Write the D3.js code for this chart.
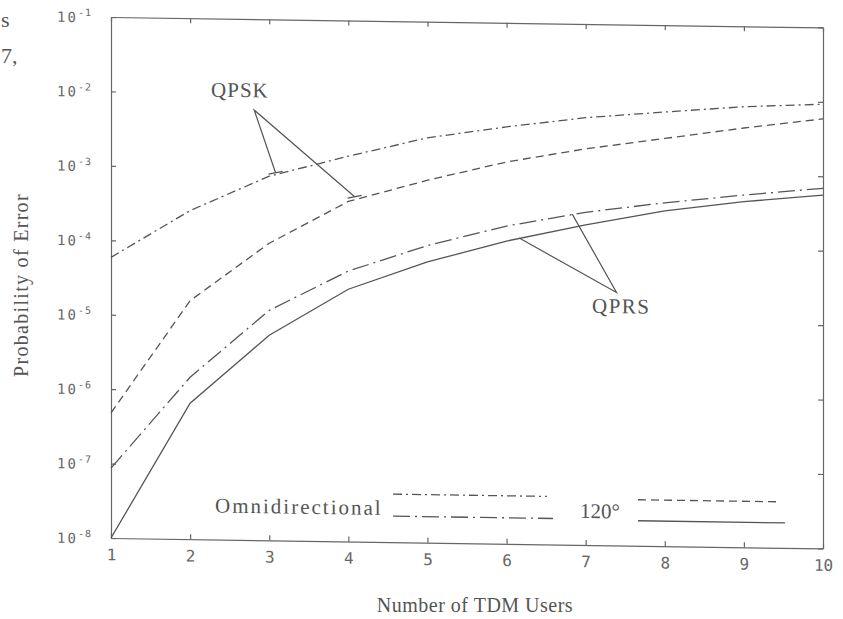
<!DOCTYPE html>
<html>
<head>
<meta charset="utf-8">
<script src="https://cdn.jsdelivr.net/npm/d3@7"></script>
<style>
  body { margin: 0; background: #fff; }
  svg { display: block; }
  .axis path, .axis line { stroke: #666; stroke-width: 1.2; }
  .curve { fill: none; stroke: #555; stroke-width: 1.3; }
  .note { fill: none; stroke: #555; stroke-width: 1.2; }
  .serif { font-family: "Liberation Serif", "DejaVu Serif", serif; fill: #555; }
</style>
</head>
<body>
<svg width="843" height="619"></svg>
<script>
// number of TDM users
var users = [1, 2, 3, 4, 5, 6, 7, 8, 9, 10];

// probability of error
var qpskOmni = [5.9e-5, 2.6e-4, 7.8e-4, 1.5e-3, 2.75e-3, 4.0e-3, 5.5e-3, 6.8e-3, 8.3e-3, 9.3e-3];
var qpsk120  = [4.8e-7, 1.6e-5, 9.8e-5, 3.7e-4, 7.4e-4, 1.35e-3, 2.1e-3, 3.0e-3, 4.3e-3, 5.9e-3];
var qprsOmni = [8.7e-8, 1.5e-6, 1.23e-5, 4.3e-5, 9.8e-5, 1.86e-4, 2.95e-4, 4.1e-4, 5.4e-4, 6.9e-4];
var qprs120  = [1.0e-8, 6.7e-7, 5.7e-6, 2.45e-5, 5.9e-5, 1.17e-4, 2.0e-4, 3.2e-4, 4.4e-4, 5.6e-4];

var xTicks = [1, 2, 3, 4, 5, 6, 7, 8, 9, 10];
var yTicks = [1e-8, 1e-7, 1e-6, 1e-5, 1e-4, 1e-3, 1e-2, 1e-1];
var yExps  = ["-8", "-7", "-6", "-5", "-4", "-3", "-2", "-1"];

// callout lines (users, probability): end - apex - end
var qpskCallout = [[3.08, 8.7e-4], [2.81, 6.0e-3], [4.08, 4.3e-4]];
var qprsCallout = [[6.16, 1.29e-4], [7.39, 2.5e-5], [6.83, 2.77e-4]];

var svg = d3.select("svg"),
    margin = {top: 17, left: 111},
    width = 712,
    height = 521;

var x = d3.scaleLinear().domain([1, 10]).range([0, width]),
    y = d3.scaleLog().domain([1e-8, 1e-1]).range([height, 0]);

// the scanned page is a little tilted, so shear the plot a bit
var g = svg.append("g")
  .attr("transform", "translate(" + margin.left + "," + margin.top + ") skewY(0.84)");

var line = d3.line()
  .x(function(d) { return x(d[0]); })
  .y(function(d) { return y(d[1]); });

function pairs(vals) {
  return users.map(function(u, i) { return [u, vals[i]]; });
}

// frame with inward ticks on all sides
g.append("g").attr("class", "axis")
  .attr("transform", "translate(0," + height + ")")
  .call(d3.axisBottom(x).tickValues(xTicks).tickSizeInner(-5).tickSizeOuter(0).tickPadding(11))
  .selectAll("text")
  .style("font", "16px 'DejaVu Sans Mono', monospace")
  .attr("fill", "#666");

g.append("g").attr("class", "axis")
  .call(d3.axisTop(x).tickValues(xTicks).tickSizeInner(-5).tickSizeOuter(0).tickFormat(""));

g.append("g").attr("class", "axis")
  .attr("transform", "translate(" + width + ",0)")
  .call(d3.axisRight(y).tickValues(yTicks).tickSizeInner(-5).tickSizeOuter(0).tickFormat(""));

var yAxis = g.append("g").attr("class", "axis")
  .call(d3.axisLeft(y).tickValues(yTicks).tickSizeInner(-5).tickSizeOuter(0).tickPadding(19).tickFormat(""));

// 10 with a raised exponent
yAxis.selectAll(".tick").each(function(d) {
  var t = d3.select(this).append("text")
    .attr("x", -19)
    .attr("y", 5)
    .attr("text-anchor", "end")
    .attr("fill", "#666")
    .style("font-family", "'DejaVu Sans Mono', monospace");
  t.append("tspan").text("10").style("font-size", "14px").style("letter-spacing", "2px");
  t.append("tspan").text(yExps[yTicks.indexOf(d)]).attr("dy", -6).style("font-size", "10px").style("letter-spacing", "1px");
});

// curves
g.append("path").attr("class", "curve").attr("stroke-dasharray", "9,4,2,4").attr("d", line(pairs(qpskOmni)));
g.append("path").attr("class", "curve").attr("stroke-dasharray", "8,5").attr("d", line(pairs(qpsk120)));
g.append("path").attr("class", "curve").attr("stroke-dasharray", "17,5,2,5").attr("d", line(pairs(qprsOmni)));
g.append("path").attr("class", "curve").attr("d", line(pairs(qprs120)));

// callouts
g.append("path").attr("class", "note").attr("d", line(qpskCallout));
g.append("path").attr("class", "note").attr("d", line(qprsCallout));
[qpskCallout[0], qpskCallout[2]].forEach(function(p) {
  g.append("line").attr("class", "note")
    .attr("x1", x(p[0]) - 7).attr("y1", y(p[1]) + 1.5)
    .attr("x2", x(p[0]) + 7).attr("y2", y(p[1]) - 1.5);
});

g.append("text").attr("class", "serif")
  .attr("x", x(2.63)).attr("y", y(8.9e-3))
  .attr("text-anchor", "middle")
  .style("font-size", "21px").style("letter-spacing", "1px")
  .text("QPSK");

g.append("text").attr("class", "serif")
  .attr("x", x(7.45)).attr("y", y(1.32e-5))
  .attr("text-anchor", "middle")
  .style("font-size", "21px").style("letter-spacing", "1.5px")
  .text("QPRS");

// legend
var legend = g.append("g");
legend.append("text").attr("class", "serif")
  .attr("x", 104).attr("y", 494)
  .style("font-size", "21px").style("letter-spacing", "2px")
  .text("Omnidirectional");
legend.append("line").attr("class", "curve").attr("stroke-dasharray", "9,4,2,4")
  .attr("x1", 282).attr("x2", 436).attr("y1", 473).attr("y2", 473);
legend.append("line").attr("class", "curve").attr("stroke-dasharray", "17,5,2,5")
  .attr("x1", 282).attr("x2", 442).attr("y1", 495).attr("y2", 495);
legend.append("text").attr("class", "serif")
  .attr("x", 469).attr("y", 494)
  .style("font-size", "21px")
  .text("120°");
legend.append("line").attr("class", "curve").attr("stroke-dasharray", "8,5")
  .attr("x1", 527).attr("x2", 667).attr("y1", 475).attr("y2", 475);
legend.append("line").attr("class", "curve")
  .attr("x1", 527).attr("x2", 674).attr("y1", 496).attr("y2", 496);

// axis titles
svg.append("text").attr("class", "serif")
  .attr("transform", "translate(28,285) rotate(-90)")
  .attr("text-anchor", "middle")
  .style("font-size", "20px").style("letter-spacing", "1.3px")
  .text("Probability of Error");

svg.append("text").attr("class", "serif")
  .attr("x", 475).attr("y", 612)
  .attr("text-anchor", "middle")
  .style("font-size", "20px").style("letter-spacing", "0.5px")
  .text("Number of TDM Users");

// bits of the surrounding page text that made it into the scan
svg.append("text").attr("class", "serif").attr("x", 1).attr("y", 27).style("font-size", "22px").text("s");
svg.append("text").attr("class", "serif").attr("x", 1).attr("y", 63).style("font-size", "22px").text("7,");
</script>
</body>
</html>
